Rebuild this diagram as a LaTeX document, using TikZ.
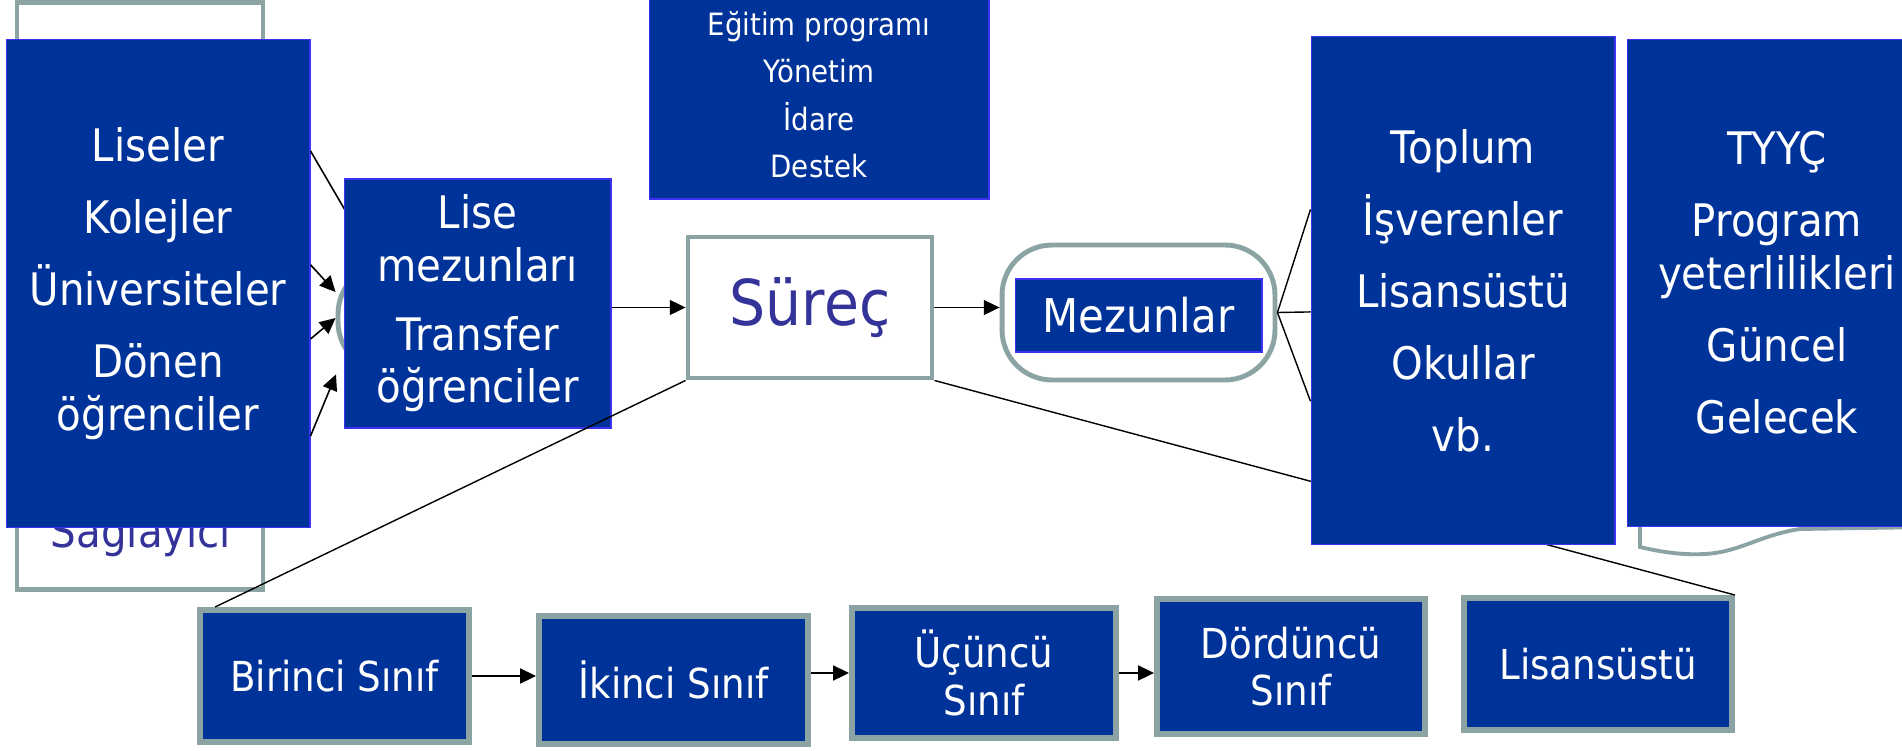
\documentclass[tikz,border=0pt]{standalone}
\usepackage{fontspec}
\setmainfont[FakeStretch=0.9]{DejaVu Sans}
\usetikzlibrary{arrows.meta}
\definecolor{koyumavi}{RGB}{0,51,153}
\definecolor{kenarmavi}{RGB}{60,50,240}
\definecolor{gri}{RGB}{139,163,163}
\definecolor{mor}{RGB}{51,51,153}

\begin{document}
\begin{tikzpicture}[x=0.02cm, y=-0.02cm,
mavi/.style = {draw=kenarmavi, line width=0.6pt, fill=koyumavi, text=white, align=center, inner sep=0pt},
buyuk/.style = {font=\fontsize{25.5}{30}\selectfont},
cerceve/.style = {draw=gri, line width=2.8pt, fill=white, inner sep=0pt},
oval/.style = {draw=gri, line width=2.8pt, fill=white, rounded corners=1cm},
sinif/.style = {mavi, draw=gri, line width=3.4pt, font=\fontsize{23.5}{27}\selectfont},
ok/.style = {-{Triangle[length=9pt, width=8.5pt]}, line width=0.9pt},
cizgi/.style = {line width=0.8pt}]
\useasboundingbox (0,0) rectangle (1902,750);

\node[cerceve, minimum width=4.92cm, minimum height=11.76cm] (saglayici) at (140,296) {};
\node[anchor=base, text=mor, buyuk] (sagtext) at (141,547) {Sağlayıcı};

\node[oval, minimum width=5.24cm, minimum height=2.16cm] (oval1) at (469,318) {};
\node[mavi, buyuk, minimum width=6.08cm, minimum height=9.78cm] (kaynak) at (158,283.5)
  {Liseler\\[11pt] Kolejler\\[11pt] Üniversiteler\\[11pt] Dönen\\ öğrenciler};
\draw[ok] (kaynak.41) -- (oval1.149);
\draw[ok] (kaynak.7) -- (oval1.169);
\draw[ok] (kaynak.-20.3) -- (oval1.180);
\draw[ok] (kaynak.-45.8) -- (oval1.203);
\node[mavi, buyuk, minimum width=5.34cm, minimum height=4.98cm] (girenler) at (477.5,303.5)
  {Lise\\ mezunları\\[9pt] Transfer\\ öğrenciler};

\node[mavi, font=\fontsize{17.5}{27}\selectfont, minimum width=6.8cm, minimum height=4.18cm] (kaynaklar) at (819,94.5)
  {Eğitim programı\\ Yönetim\\ İdare\\ Destek};

\node[cerceve, text=mor, font=\fontsize{36}{40}\selectfont, minimum width=4.88cm, minimum height=2.82cm] (surec) at (810,307.5) {Süreç};
\node[oval, minimum width=5.46cm, minimum height=2.7cm] (mezunoval) at (1138.5,312.5) {};
\node[mavi, font=\fontsize{26.5}{30}\selectfont, minimum width=4.94cm, minimum height=1.46cm] (mezunlar) at (1138.5,315.5) {Mezunlar};
\draw[ok] (surec.west -| girenler.east) -- (surec.west);
\draw[ok] (surec.east) -- (surec.east -| mezunoval.west);

\node[sinif, minimum width=5.38cm, minimum height=2.64cm] (birinci) at (334.5,676) {Birinci Sınıf};
\node[sinif, minimum width=5.38cm, minimum height=2.56cm] (ikinci) at (673.5,680) {İkinci Sınıf};
\node[sinif, minimum width=5.28cm, minimum height=2.6cm] (ucuncu) at (984,673) {Üçüncü\\ Sınıf};
\node[sinif, minimum width=5.36cm, minimum height=2.7cm] (dorduncu) at (1291,666.5) {Dördüncü\\ Sınıf};
\node[sinif, minimum width=5.36cm, minimum height=2.64cm] (lisansustu) at (1598,664) {Lisansüstü};
\draw[ok] (birinci.east) -- (birinci.east -| ikinci.west);
\draw[ok] (ucuncu.west -| ikinci.east) -- (ucuncu.west);
\draw[ok] (ucuncu.east) -- (ucuncu.east -| dorduncu.west);
\draw[cizgi] (surec.south west) -- (birinci.150);
\draw[cizgi] (surec.south east) -- (lisansustu.north east);

\node[mavi, buyuk, minimum width=6.08cm, minimum height=10.18cm] (paydaslar) at (1463,290.5)
  {Toplum\\[11pt] İşverenler\\[11pt] Lisansüstü\\[11pt] Okullar\\[11pt] vb.};
\draw[cizgi] (mezunoval.east) -- (paydaslar.152.8);
\draw[cizgi] (mezunoval.east) -- (paydaslar.188.6);
\draw[cizgi] (mezunoval.east) -- (paydaslar.216.2);

\draw[draw=gri, line width=2.2pt, fill=white] (1640,60) -- (1640,547)
  .. controls (1665,553) and (1685,555) .. (1705,554)
  .. controls (1740,552) and (1760,535) .. (1800,529) -- (1930,527) -- (1930,60) -- cycle;
\node[mavi, buyuk, minimum width=6cm, minimum height=9.76cm] (tyyc) at (1777,283)
  {TYYÇ\\[11pt] Program\\ yeterlilikleri\\[11pt] Güncel\\[11pt] Gelecek};
\end{tikzpicture}
\end{document}
